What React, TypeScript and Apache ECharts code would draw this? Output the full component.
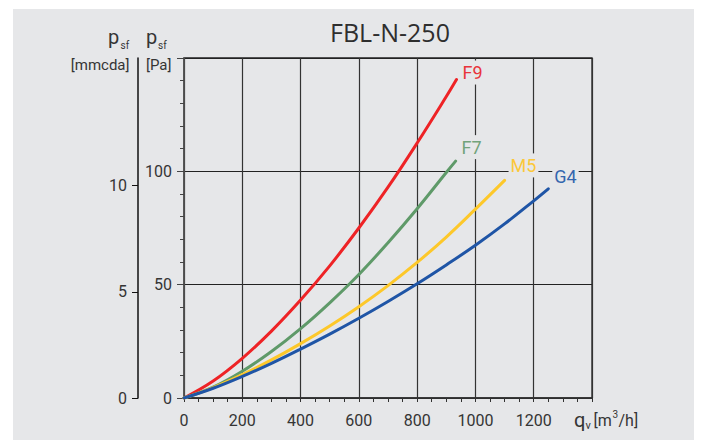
import React, { useEffect, useRef } from "react";
import * as echarts from "echarts";

const title = "FBL-N-250";
const seriesNames = ["F9", "F7", "M5", "G4"];
const lineColors = ["#ee2326", "#5f9a69", "#fdc82a", "#1f55a6"];
const labelColors = ["#e8353b", "#72a37a", "#fcc839", "#3366ae"];

const f9Flow = [0, 100, 200, 300, 400, 500, 600, 700, 800, 900, 935];
const f9Press = [0, 7.5, 17.5, 29.5, 43.2, 58.3, 75, 93, 112.5, 133, 140.5];
const f7Flow = [0, 100, 200, 300, 400, 500, 600, 700, 800, 900, 932];
const f7Press = [0, 4.8, 11.8, 20.5, 30.6, 42, 54.5, 68.5, 83.5, 99.5, 104.5];
const m5Flow = [0, 100, 200, 300, 400, 500, 600, 700, 800, 900, 1000, 1100];
const m5Press = [0, 4.6, 10.3, 16.8, 24, 31.8, 40.3, 49.6, 59.8, 71, 83.3, 96];
const g4Flow = [0, 100, 200, 300, 400, 500, 600, 700, 800, 900, 1000, 1100, 1200, 1250];
const g4Press = [0, 4.3, 9.5, 15.3, 21.6, 28.2, 35.2, 42.6, 50.4, 58.7, 67.4, 76.8, 87, 92.3];

const xTickLabels = [0, 200, 400, 600, 800, 1000, 1200];
const paTickLabels = [0, 50, 100];
const mmTickLabels = [0, 5, 10];

const labelOffsets = [[-4, -7], [-4, -14], [-4, -15], [-4, -12.5]];

const FONT = "Roboto";
const TXT = "#353535";

export default function App() {
  const ref = useRef<HTMLDivElement>(null);
  useEffect(() => {
    if (!ref.current) return;
    const chart = echarts.init(ref.current, null, { renderer: "svg" });
    const flows = [f9Flow, f7Flow, m5Flow, g4Flow];
    const press = [f9Press, f7Press, m5Press, g4Press];
    const series = seriesNames.map((name, i) => ({
      name,
      type: "line",
      yAxisIndex: 0,
      smooth: 0.4,
      symbol: "none",
      data: flows[i].map((q, j) => [q, press[i][j]]),
      lineStyle: { color: lineColors[i], width: 3, cap: "round" },
      endLabel: {
        show: true,
        formatter: name,
        color: labelColors[i],
        fontFamily: FONT,
        fontSize: 18,
        backgroundColor: "#e6e7e9",
        padding: [3, 2],
        offset: labelOffsets[i],
      },
    }));
    const texts: any[] = [
      { type: "text", x: 390, y: 32, style: { text: title, font: `25px "Open Sans"`, fill: "#2e2e2e", align: "center", verticalAlign: "middle" } },
      { type: "text", x: 108, y: 36.5, style: { text: "p", font: `20px ${FONT}`, fill: TXT, align: "left", verticalAlign: "middle" } },
      { type: "text", x: 120.5, y: 45.5, style: { text: "sf", font: `10px ${FONT}`, fill: TXT, align: "left", verticalAlign: "middle" } },
      { type: "text", x: 146, y: 36.5, style: { text: "p", font: `20px ${FONT}`, fill: TXT, align: "left", verticalAlign: "middle" } },
      { type: "text", x: 158, y: 45.5, style: { text: "sf", font: `10px ${FONT}`, fill: TXT, align: "left", verticalAlign: "middle" } },
      { type: "text", x: 129.5, y: 65, style: { text: "[mmcda]", font: `15px ${FONT}`, fill: TXT, align: "right", verticalAlign: "middle" } },
      { type: "text", x: 146, y: 65, style: { text: "[Pa]", font: `15px ${FONT}`, fill: TXT, align: "left", verticalAlign: "middle" } },
      { type: "text", x: 574, y: 420, style: { text: "q", font: `20px ${FONT}`, fill: TXT, align: "left", verticalAlign: "middle" } },
      { type: "text", x: 585.5, y: 425, style: { text: "v", font: `11px ${FONT}`, fill: TXT, align: "left", verticalAlign: "middle" } },
      { type: "text", x: 593.5, y: 420.5, style: { text: "[m", font: `16px ${FONT}`, fill: TXT, align: "left", verticalAlign: "middle" } },
      { type: "text", x: 612.5, y: 414.5, style: { text: "3", font: `10px ${FONT}`, fill: TXT, align: "left", verticalAlign: "middle" } },
      { type: "text", x: 618.5, y: 420.5, style: { text: "/h]", font: `16px ${FONT}`, fill: TXT, align: "left", verticalAlign: "middle" } },
    ];
    chart.setOption({
      animation: false,
      backgroundColor: "transparent",
      textStyle: { fontFamily: FONT },
      grid: {
        left: 184, top: 58, right: 111, bottom: 42,
        show: true, borderColor: "#222", borderWidth: 1.3, backgroundColor: "transparent",
      },
      xAxis: {
        type: "value", min: 0, max: 1400, interval: 200,
        axisLine: { show: true, lineStyle: { color: "#333", width: 1.5 } },
        axisTick: { show: true, length: 4, lineStyle: { color: "#333" } },
        minorTick: { show: true, splitNumber: 4, length: 4, lineStyle: { color: "#333" } },
        splitLine: { show: true, lineStyle: { color: "#333", width: 1.2 } },
        axisLabel: {
          customValues: xTickLabels, color: TXT, fontSize: 16, margin: 14, fontFamily: FONT,
          formatter: (v: number) => String(v),
        },
      },
      yAxis: [
        {
          type: "value", min: 0, max: 150, interval: 50, position: "left",
          axisLine: { show: true, lineStyle: { color: "#555", width: 1.5 } },
          axisTick: { show: true, length: 7, lineStyle: { color: "#444" } },
          minorTick: { show: true, splitNumber: 5, length: 4, lineStyle: { color: "#444" } },
          splitLine: { show: true, lineStyle: { color: "#222", width: 1.2 } },
          axisLabel: { customValues: paTickLabels, color: TXT, fontSize: 16, margin: 12, fontFamily: FONT, formatter: (v: number) => String(v) },
        },
        {
          type: "value", min: 0, max: 16, position: "left", offset: 46,
          axisLine: { show: true, lineStyle: { color: "#111", width: 1.5 } },
          axisTick: { show: true, customValues: mmTickLabels, length: 6, lineStyle: { color: "#111" } },
          splitLine: { show: false },
          axisLabel: { customValues: mmTickLabels, color: TXT, fontSize: 16, margin: 11, fontFamily: FONT, formatter: (v: number) => String(v) },
        },
      ],
      graphic: texts,
      series,
    });
    return () => chart.dispose();
  }, []);
  return (
    <div style={{ position: "absolute", left: 0, top: 0, width: 703, height: 440, background: "#fff" }}>
      <div style={{ position: "absolute", left: 13, top: 9, width: 681, height: 431, background: "#e6e7e9" }} />
      <div ref={ref} style={{ position: "absolute", left: 0, top: 0, width: 703, height: 440 }} />
    </div>
  );
}
